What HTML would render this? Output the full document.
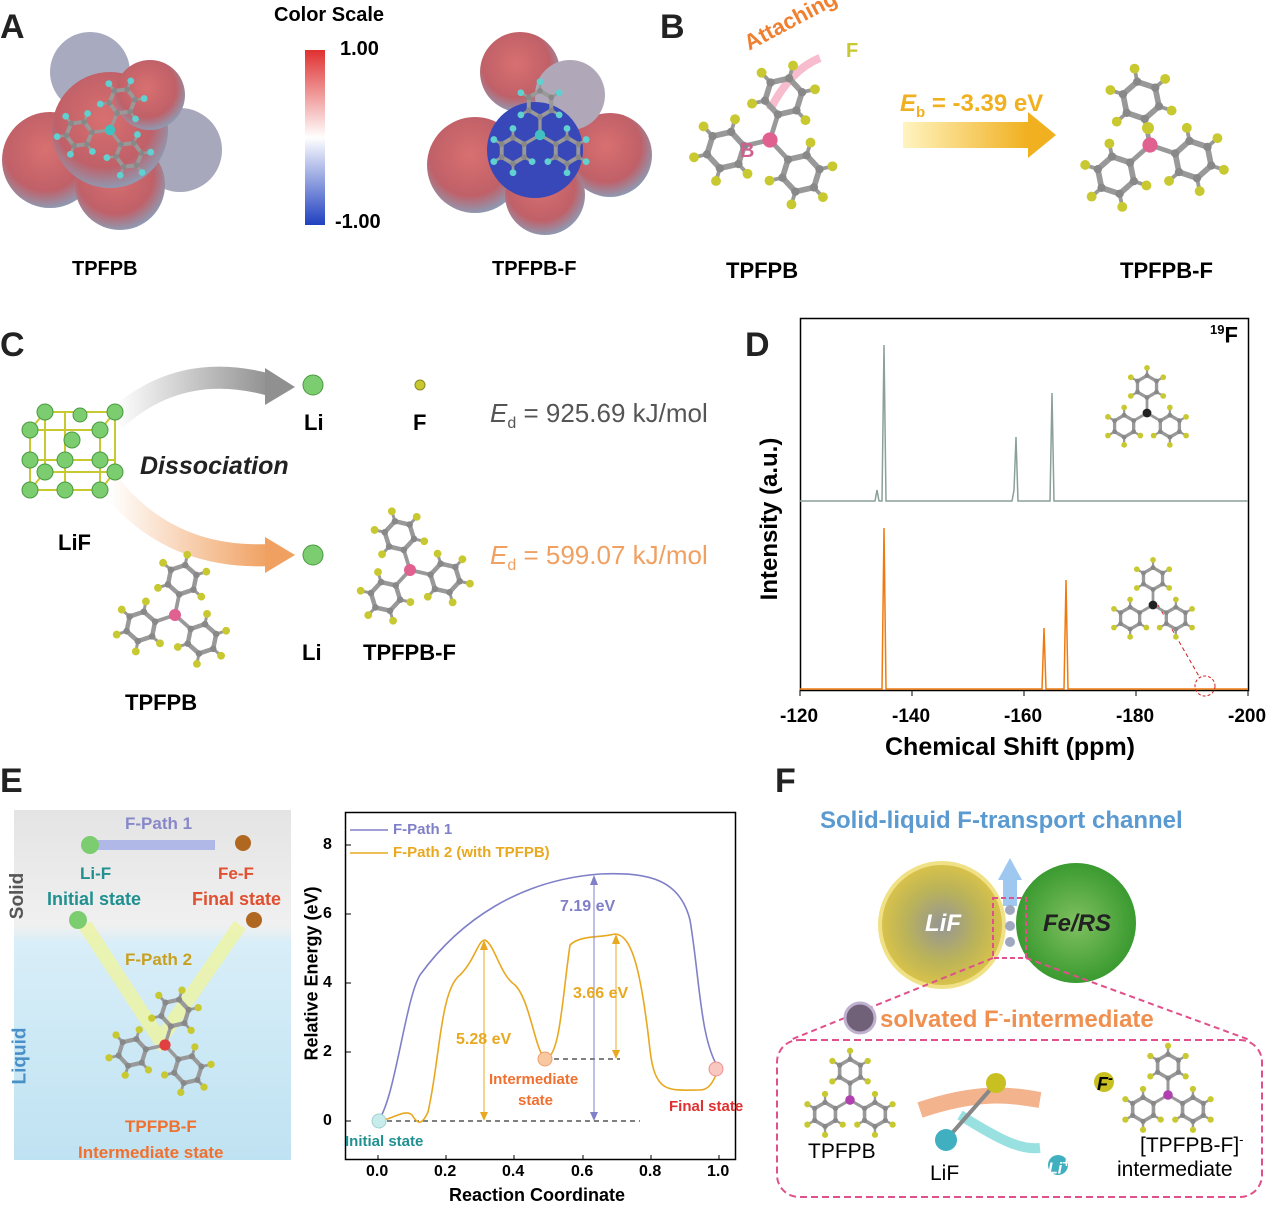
<!DOCTYPE html>
<html><head><meta charset="utf-8">
<style>
body{margin:0;background:#fff;}
#c{position:relative;width:1270px;height:1207px;overflow:hidden;font-family:"Liberation Sans",Arial,sans-serif;}
.t{position:absolute;white-space:nowrap;}
.L{font-weight:bold;font-size:34px;color:#222;}
.b{font-weight:bold;}
</style></head><body>
<div id="c">
<svg id="s" width="1270" height="1207" style="position:absolute;left:0;top:0">
<defs>
<linearGradient id="cs" x1="0" y1="0" x2="0" y2="1"><stop offset="0" stop-color="#e03030"/><stop offset="0.5" stop-color="#ffffff"/><stop offset="1" stop-color="#2040c0"/></linearGradient>
<radialGradient id="blobA" cx="0.5" cy="0.5" r="0.6"><stop offset="0" stop-color="#d05050"/><stop offset="0.6" stop-color="#c86060"/><stop offset="1" stop-color="#9aa0b8"/></radialGradient>
<radialGradient id="blobB" cx="0.5" cy="0.5" r="0.6"><stop offset="0" stop-color="#2030b0"/><stop offset="0.3" stop-color="#4050c0"/><stop offset="0.55" stop-color="#c85858"/><stop offset="1" stop-color="#a0a4b8"/></radialGradient>
<radialGradient id="sph" cx="0.45" cy="0.4" r="0.6"><stop offset="0" stop-color="#d87070"/><stop offset="0.7" stop-color="#c06068"/><stop offset="1" stop-color="#9098b0"/></radialGradient>
<linearGradient id="arB" x1="0" x2="1"><stop offset="0" stop-color="#fff4c0"/><stop offset="1" stop-color="#f0b020"/></linearGradient>
<linearGradient id="arG" x1="0" x2="1"><stop offset="0" stop-color="#fff"/><stop offset="1" stop-color="#909090"/></linearGradient>
<linearGradient id="arO" x1="0" x2="1"><stop offset="0" stop-color="#fff"/><stop offset="1" stop-color="#f0a060"/></linearGradient>
<linearGradient id="bg" x1="0" y1="0" x2="0" y2="1"><stop offset="0" stop-color="#e4e4e4"/><stop offset="0.33" stop-color="#f0f0f0"/><stop offset="0.38" stop-color="#d8eef8"/><stop offset="1" stop-color="#bfe2f2"/></linearGradient>
<radialGradient id="lif" cx="0.5" cy="0.5" r="0.5"><stop offset="0" stop-color="#909090"/><stop offset="0.6" stop-color="#b8b050"/><stop offset="1" stop-color="#d8c040"/></radialGradient>
<radialGradient id="fe" cx="0.5" cy="0.5" r="0.5"><stop offset="0" stop-color="#80c060"/><stop offset="1" stop-color="#3a9a30"/></radialGradient>
</defs>
<!-- Panel A blobs -->
<g>
<circle cx="90" cy="72" r="40" fill="#a8aac0"/><circle cx="180" cy="150" r="42" fill="#a8a8bc"/><circle cx="50" cy="160" r="48" fill="url(#sph)"/><circle cx="120" cy="185" r="45" fill="url(#sph)"/><circle cx="110" cy="130" r="58" fill="url(#sph)"/><circle cx="150" cy="95" r="35" fill="url(#sph)"/>
<circle cx="520" cy="72" r="40" fill="url(#sph)"/><circle cx="610" cy="155" r="42" fill="url(#sph)"/><circle cx="475" cy="165" r="48" fill="url(#sph)"/><circle cx="545" cy="195" r="40" fill="url(#sph)"/><circle cx="570" cy="95" r="35" fill="#b0a8b8"/><circle cx="535" cy="150" r="48" fill="#3848b8"/>
</g>
<rect x="305" y="50" width="20" height="175" fill="url(#cs)"/>
<rect x="903" y="122" width="125" height="26" fill="url(#arB)"/><polygon points="1028,112 1056,135 1028,158" fill="#f0b020"/>
<path d="M820,58 Q790,70 770,110" stroke="#f4a0b8" stroke-width="8" fill="none" opacity="0.7"/>
<!-- C arrows -->
<path d="M115,420 Q180,360 270,385" stroke="url(#arG)" stroke-width="22" fill="none"/><polygon points="265,368 295,387 265,405" fill="#909090"/>
<path d="M110,485 Q170,560 270,555" stroke="url(#arO)" stroke-width="22" fill="none"/><polygon points="265,537 295,555 265,573" fill="#f0a060"/>
<circle cx="313" cy="385" r="10" fill="#7ccc70" stroke="#4a9a40"/><circle cx="420" cy="385" r="5" fill="#c8c830" stroke="#888820"/>
<circle cx="313" cy="555" r="10" fill="#7ccc70" stroke="#4a9a40"/>
<g stroke="#c8c830" stroke-width="2" fill="none"><rect x="30" y="430" width="70" height="60"/><rect x="45" y="412" width="70" height="60"/><line x1="30" y1="430" x2="45" y2="412"/><line x1="100" y1="430" x2="115" y2="412"/><line x1="30" y1="490" x2="45" y2="472"/><line x1="100" y1="490" x2="115" y2="472"/><line x1="65" y1="412" x2="65" y2="490"/><line x1="30" y1="460" x2="115" y2="460"/></g>
<g fill="#7ccc70" stroke="#4a9a40">
<circle cx="30" cy="430" r="8"/><circle cx="100" cy="430" r="8"/><circle cx="30" cy="490" r="8"/><circle cx="100" cy="490" r="8"/><circle cx="45" cy="412" r="8"/><circle cx="115" cy="412" r="8"/><circle cx="115" cy="472" r="8"/><circle cx="45" cy="472" r="8"/><circle cx="65" cy="460" r="8"/><circle cx="72" cy="440" r="8"/><circle cx="80" cy="415" r="7"/><circle cx="65" cy="490" r="8"/><circle cx="100" cy="460" r="8"/><circle cx="30" cy="460" r="8"/></g>
<!-- D plot -->
<rect x="800.5" y="318.5" width="448" height="372" fill="none" stroke="#000" stroke-width="1.5"/>
<path d="M800,501 L875,501 L877,490 L879,501 L882,501 L884,345 L886,501 L1012,501 L1014,490 L1016,437 L1018,501 L1050,501 L1052,393 L1054,501 L1248,501" fill="none" stroke="#8aa09a" stroke-width="1.5"/>
<path d="M800,689 L882,689 L884,528 L886,689 L1042,689 L1044,628 L1046,689 L1064,689 L1066,580 L1068,689 L1248,689" fill="none" stroke="#f07a10" stroke-width="1.5"/>
<circle cx="1205" cy="686" r="10" fill="none" stroke="#d02020" stroke-dasharray="3,2"/>
<line x1="1158" y1="605" x2="1200" y2="678" stroke="#d02020" stroke-dasharray="4,3"/>
<g stroke="#000"><line x1="800" y1="690" x2="800" y2="696"/><line x1="912" y1="690" x2="912" y2="696"/><line x1="1024" y1="690" x2="1024" y2="696"/><line x1="1136" y1="690" x2="1136" y2="696"/><line x1="1248" y1="690" x2="1248" y2="696"/></g>
<!-- E left image -->
<rect x="14" y="810" width="277" height="350" fill="url(#bg)"/>
<line x1="95" y1="845" x2="215" y2="845" stroke="#b0b8e8" stroke-width="10"/>
<circle cx="90" cy="845" r="9" fill="#7ccc70"/><circle cx="243" cy="843" r="8" fill="#b06820"/>
<path d="M85,925 L160,1040 L240,925" stroke="#eef4a0" stroke-width="14" fill="none" opacity="0.8"/>
<circle cx="78" cy="920" r="9" fill="#7ccc70"/><circle cx="254" cy="920" r="8" fill="#b06820"/>
<!-- E plot -->
<rect x="345.5" y="812.5" width="390" height="347" fill="none" stroke="#000" stroke-width="1.5"/>
<g stroke="#000"><line x1="378" y1="1160" x2="378" y2="1155"/><line x1="446" y1="1160" x2="446" y2="1155"/><line x1="514" y1="1160" x2="514" y2="1155"/><line x1="583" y1="1160" x2="583" y2="1155"/><line x1="651" y1="1160" x2="651" y2="1155"/><line x1="719" y1="1160" x2="719" y2="1155"/>
<line x1="345" y1="1121" x2="351" y2="1121"/><line x1="345" y1="1052" x2="351" y2="1052"/><line x1="345" y1="983" x2="351" y2="983"/><line x1="345" y1="914" x2="351" y2="914"/><line x1="345" y1="845" x2="351" y2="845"/></g>
<line x1="378" y1="1121" x2="640" y2="1121" stroke="#000" stroke-dasharray="5,4"/>
<line x1="545" y1="1059" x2="620" y2="1059" stroke="#000" stroke-dasharray="5,4"/>
<path d="M378,1121 C395,1100 405,1000 420,975 C460,920 520,880 600,874 C650,872 680,880 690,920 C700,980 700,1040 719,1069" fill="none" stroke="#8080c8" stroke-width="1.6"/>
<path d="M378,1121 C390,1121 405,1108 412,1115 C418,1125 422,1125 428,1112 C440,1060 440,990 460,975 C475,960 478,940 485,940 C495,945 500,975 515,985 C530,1000 535,1050 545,1059 C560,1058 562,1000 570,945 C580,935 600,938 615,934 C630,935 640,960 650,1050 C655,1095 670,1090 700,1090 C712,1090 715,1075 719,1069" fill="none" stroke="#e8a820" stroke-width="1.6"/>
<line x1="484" y1="943" x2="484" y2="1119" stroke="#e8a820"/><polygon points="480,950 484,940 488,950" fill="#e8a820"/><polygon points="480,1112 484,1121 488,1112" fill="#e8a820"/>
<line x1="594" y1="878" x2="594" y2="1119" stroke="#8080c8"/><polygon points="590,885 594,875 598,885" fill="#8080c8"/><polygon points="590,1112 594,1121 598,1112" fill="#8080c8"/>
<line x1="616" y1="937" x2="616" y2="1057" stroke="#e8a820"/><polygon points="612,944 616,934 620,944" fill="#e8a820"/><polygon points="612,1050 616,1059 620,1050" fill="#e8a820"/>
<circle cx="379" cy="1121" r="7" fill="#c8ecec" stroke="#a0d0d0"/><circle cx="545" cy="1059" r="7" fill="#f8c8a0" stroke="#f0a070"/><circle cx="716" cy="1069" r="7" fill="#f8c8c0" stroke="#f09090"/>
<line x1="350" y1="830" x2="388" y2="830" stroke="#8080c8" stroke-width="1.6"/><line x1="350" y1="853" x2="388" y2="853" stroke="#e8a820" stroke-width="1.6"/>
<!-- F -->
<circle cx="1076" cy="923" r="60" fill="url(#fe)"/>
<circle cx="942" cy="925" r="62" fill="url(#lif)" stroke="#f0e080" stroke-width="4" opacity="0.95"/>
<rect x="1003" y="878" width="14" height="28" fill="#9ec8f0"/><polygon points="998,880 1010,858 1022,880" fill="#9ec8f0"/>
<rect x="993" y="898" width="33" height="60" fill="none" stroke="#e0508a" stroke-width="2" stroke-dasharray="5,3"/>
<circle cx="1010" cy="910" r="5" fill="#a0a8c0"/><circle cx="1010" cy="926" r="5" fill="#a0a8c0"/><circle cx="1010" cy="942" r="5" fill="#a0a8c0"/>
<line x1="993" y1="958" x2="790" y2="1040" stroke="#e0508a" stroke-width="2" stroke-dasharray="6,4"/>
<line x1="1026" y1="958" x2="1250" y2="1040" stroke="#e0508a" stroke-width="2" stroke-dasharray="6,4"/>
<rect x="777" y="1040" width="485" height="157" rx="22" fill="none" stroke="#e0508a" stroke-width="2" stroke-dasharray="7,4"/>
<circle cx="860" cy="1018" r="15" fill="#706078" stroke="#c0b0d0" stroke-width="3"/>
<path d="M920,1110 C980,1090 1010,1095 1040,1100" stroke="#f0a070" stroke-width="16" fill="none" opacity="0.8"/>
<path d="M960,1115 C1000,1140 1020,1150 1040,1148" stroke="#80d8d8" stroke-width="10" fill="none" opacity="0.8"/>
<line x1="946" y1="1140" x2="996" y2="1083" stroke="#888" stroke-width="4"/>
<circle cx="946" cy="1140" r="11" fill="#40b0c0"/><circle cx="996" cy="1083" r="10" fill="#c8c020"/>
<circle cx="1058" cy="1165" r="10" fill="#40b0c0"/><circle cx="1104" cy="1082" r="10" fill="#c8c020"/>
<g id="mols"></g>
</svg>

<div class="t L" style="left:0;top:8px">A</div>
<div class="t b" style="left:274px;top:4px;font-size:20px">Color Scale</div>
<div class="t b" style="left:340px;top:38px;font-size:20px">1.00</div>
<div class="t b" style="left:335px;top:211px;font-size:20px">-1.00</div>
<div class="t b" style="left:72px;top:258px;font-size:20px">TPFPB</div>
<div class="t b" style="left:492px;top:258px;font-size:20px">TPFPB-F</div>
<div class="t L" style="left:660px;top:8px">B</div>
<div class="t b" style="left:752px;top:30px;font-size:22px;color:#f08030;transform:rotate(-28deg);transform-origin:0 100%">Attaching</div>
<div class="t b" style="left:846px;top:40px;font-size:20px;color:#c8c830">F</div>
<div class="t b" style="left:740px;top:140px;font-size:20px;color:#d06090">B</div>
<div class="t b" style="left:900px;top:90px;font-size:24px;color:#f0b020"><i>E</i><sub style="font-size:15px">b</sub> = -3.39 eV</div>
<div class="t b" style="left:726px;top:258px;font-size:22px">TPFPB</div>
<div class="t b" style="left:1120px;top:258px;font-size:22px">TPFPB-F</div>
<div class="t L" style="left:0;top:326px">C</div>
<div class="t b" style="left:304px;top:410px;font-size:22px">Li</div>
<div class="t b" style="left:413px;top:410px;font-size:22px">F</div>
<div class="t" style="left:490px;top:398px;font-size:26px;color:#555"><i>E</i><sub style="font-size:16px">d</sub> = 925.69 kJ/mol</div>
<div class="t b" style="left:140px;top:452px;font-size:25px;font-style:italic;color:#222">Dissociation</div>
<div class="t b" style="left:58px;top:530px;font-size:22px">LiF</div>
<div class="t" style="left:490px;top:540px;font-size:26px;color:#f0a060"><i>E</i><sub style="font-size:16px">d</sub> = 599.07 kJ/mol</div>
<div class="t b" style="left:302px;top:640px;font-size:22px">Li</div>
<div class="t b" style="left:363px;top:640px;font-size:22px">TPFPB-F</div>
<div class="t b" style="left:125px;top:690px;font-size:22px">TPFPB</div>
<div class="t L" style="left:745px;top:326px">D</div>
<div class="t b" style="left:1210px;top:322px;font-size:22px"><sup style="font-size:13px">19</sup>F</div>
<div class="t b" style="left:680px;top:505px;font-size:24px;transform:rotate(-90deg);transform-origin:center;width:180px;text-align:center">Intensity (a.u.)</div>
<div class="t b" style="left:780px;top:706px;font-size:19px">-120</div>
<div class="t b" style="left:892px;top:706px;font-size:19px">-140</div>
<div class="t b" style="left:1004px;top:706px;font-size:19px">-160</div>
<div class="t b" style="left:1116px;top:706px;font-size:19px">-180</div>
<div class="t b" style="left:1228px;top:706px;font-size:19px">-200</div>
<div class="t b" style="left:885px;top:733px;font-size:25px">Chemical Shift (ppm)</div>
<div class="t L" style="left:0;top:762px">E</div>
<div class="t b" style="left:125px;top:814px;font-size:17px;color:#8888c8">F-Path 1</div>
<div class="t b" style="left:80px;top:864px;font-size:17px;color:#209090">Li-F</div>
<div class="t b" style="left:218px;top:864px;font-size:17px;color:#e05030">Fe-F</div>
<div class="t b" style="left:47px;top:889px;font-size:18px;color:#209090">Initial state</div>
<div class="t b" style="left:192px;top:889px;font-size:18px;color:#e05030">Final state</div>
<div class="t b" style="left:-5px;top:885px;font-size:19px;color:#555;transform:rotate(-90deg)">Solid</div>
<div class="t b" style="left:-8px;top:1045px;font-size:19px;color:#4a90c8;transform:rotate(-90deg)">Liquid</div>
<div class="t b" style="left:125px;top:950px;font-size:17px;color:#c8a020">F-Path 2</div>
<div class="t b" style="left:125px;top:1117px;font-size:17px;color:#f07030">TPFPB-F</div>
<div class="t b" style="left:78px;top:1143px;font-size:17px;color:#f07030">Intermediate state</div>
<div class="t b" style="left:393px;top:821px;font-size:15px;color:#8080c8">F-Path 1</div>
<div class="t b" style="left:393px;top:844px;font-size:15px;color:#e8a820">F-Path 2 (with TPFPB)</div>
<div class="t b" style="left:560px;top:898px;font-size:16px;color:#8080c8">7.19 eV</div>
<div class="t b" style="left:573px;top:985px;font-size:16px;color:#e8a820">3.66 eV</div>
<div class="t b" style="left:456px;top:1031px;font-size:16px;color:#e8a820">5.28 eV</div>
<div class="t b" style="left:489px;top:1071px;font-size:15px;color:#f07030">Intermediate</div>
<div class="t b" style="left:518px;top:1092px;font-size:15px;color:#f07030">state</div>
<div class="t b" style="left:669px;top:1098px;font-size:15px;color:#e03030">Final state</div>
<div class="t b" style="left:345px;top:1133px;font-size:15px;color:#209090">Initial state</div>
<div class="t b" style="left:323px;top:836px;font-size:16px">8</div>
<div class="t b" style="left:323px;top:905px;font-size:16px">6</div>
<div class="t b" style="left:323px;top:974px;font-size:16px">4</div>
<div class="t b" style="left:323px;top:1043px;font-size:16px">2</div>
<div class="t b" style="left:323px;top:1112px;font-size:16px">0</div>
<div class="t b" style="left:366px;top:1163px;font-size:16px">0.0</div>
<div class="t b" style="left:434px;top:1163px;font-size:16px">0.2</div>
<div class="t b" style="left:502px;top:1163px;font-size:16px">0.4</div>
<div class="t b" style="left:571px;top:1163px;font-size:16px">0.6</div>
<div class="t b" style="left:639px;top:1163px;font-size:16px">0.8</div>
<div class="t b" style="left:707px;top:1163px;font-size:16px">1.0</div>
<div class="t b" style="left:449px;top:1185px;font-size:18px">Reaction Coordinate</div>
<div class="t b" style="left:222px;top:963px;font-size:18px;transform:rotate(-90deg);width:180px;text-align:center">Relative Energy (eV)</div>
<div class="t L" style="left:775px;top:762px">F</div>
<div class="t b" style="left:820px;top:807px;font-size:24px;color:#5a9ad0">Solid-liquid F-transport channel</div>
<div class="t b" style="left:925px;top:910px;font-size:24px;font-style:italic;color:#fff">LiF</div>
<div class="t b" style="left:1043px;top:910px;font-size:24px;font-style:italic;color:#222">Fe/RS</div>
<div class="t b" style="left:880px;top:1006px;font-size:24px;color:#f09050">solvated F<sup style="font-size:13px">-</sup>-intermediate</div>
<div class="t" style="left:808px;top:1140px;font-size:21px">TPFPB</div>
<div class="t" style="left:930px;top:1162px;font-size:21px">LiF</div>
<div class="t b" style="left:1048px;top:1155px;font-size:16px;font-style:italic;color:#fff">Li<sup>+</sup></div>
<div class="t b" style="left:1097px;top:1070px;font-size:18px;font-style:italic">F<sup>-</sup></div>
<div class="t" style="left:1140px;top:1132px;font-size:21px">[TPFPB-F]<sup style="font-size:13px">-</sup></div>
<div class="t" style="left:1117px;top:1158px;font-size:21px">intermediate</div>
</div>
<script>
var g=document.getElementById('mols'),NS='http://www.w3.org/2000/svg';
function el(t,a){var e=document.createElementNS(NS,t);for(var k in a)e.setAttribute(k,a[k]);g.appendChild(e);return e;}
function mol(cx,cy,s,bc,rot,fc){rot=rot||0;fc=fc||'#c8c830';
 for(var i=0;i<3;i++){var a=rot+i*2.094+(-1.57);var rx=cx+Math.cos(a)*s*2.4,ry=cy+Math.sin(a)*s*2.4;
  el('line',{x1:cx,y1:cy,x2:cx+Math.cos(a)*s*1.4,y2:cy+Math.sin(a)*s*1.4,stroke:'#999','stroke-width':s*0.25});
  var pts=[];for(var j=0;j<6;j++){var b=a+Math.PI+j*1.047;var px=rx+Math.cos(b)*s,py=ry+Math.sin(b)*s;pts.push(px+','+py);
   if(j>0){var fx=rx+Math.cos(b)*s*1.7,fy=ry+Math.sin(b)*s*1.7;el('line',{x1:px,y1:py,x2:fx,y2:fy,stroke:'#999','stroke-width':s*0.2});el('circle',{cx:fx,cy:fy,r:s*0.26,fill:fc});}}
  el('polygon',{points:pts.join(' '),fill:'none',stroke:'#999','stroke-width':s*0.3});
  pts.forEach(function(p){var q=p.split(',');el('circle',{cx:q[0],cy:q[1],r:s*0.22,fill:'#888'});});}
 el('circle',{cx:cx,cy:cy,r:s*0.4,fill:bc});}
mol(770,140,19,'#e06090',0.3);mol(1150,145,19,'#e06090',-0.2);el('circle',{cx:1148,cy:128,r:6,fill:'#c8c830'});
mol(175,615,15,'#e06090',0.2);mol(410,570,15,'#e06090',-0.3);
mol(1147,413,11,'#222',0);mol(1153,605,11,'#222',0);
mol(165,1045,14,'#e04040',0.3);
mol(850,1100,12,'#b040b0',0);mol(1168,1095,12,'#b040b0',0);
mol(540,135,13,'#40c0c0',0,'#60d0d0');mol(110,130,13,'#40c0c0',0.4,'#60d0d0');
</script>
</body></html>
